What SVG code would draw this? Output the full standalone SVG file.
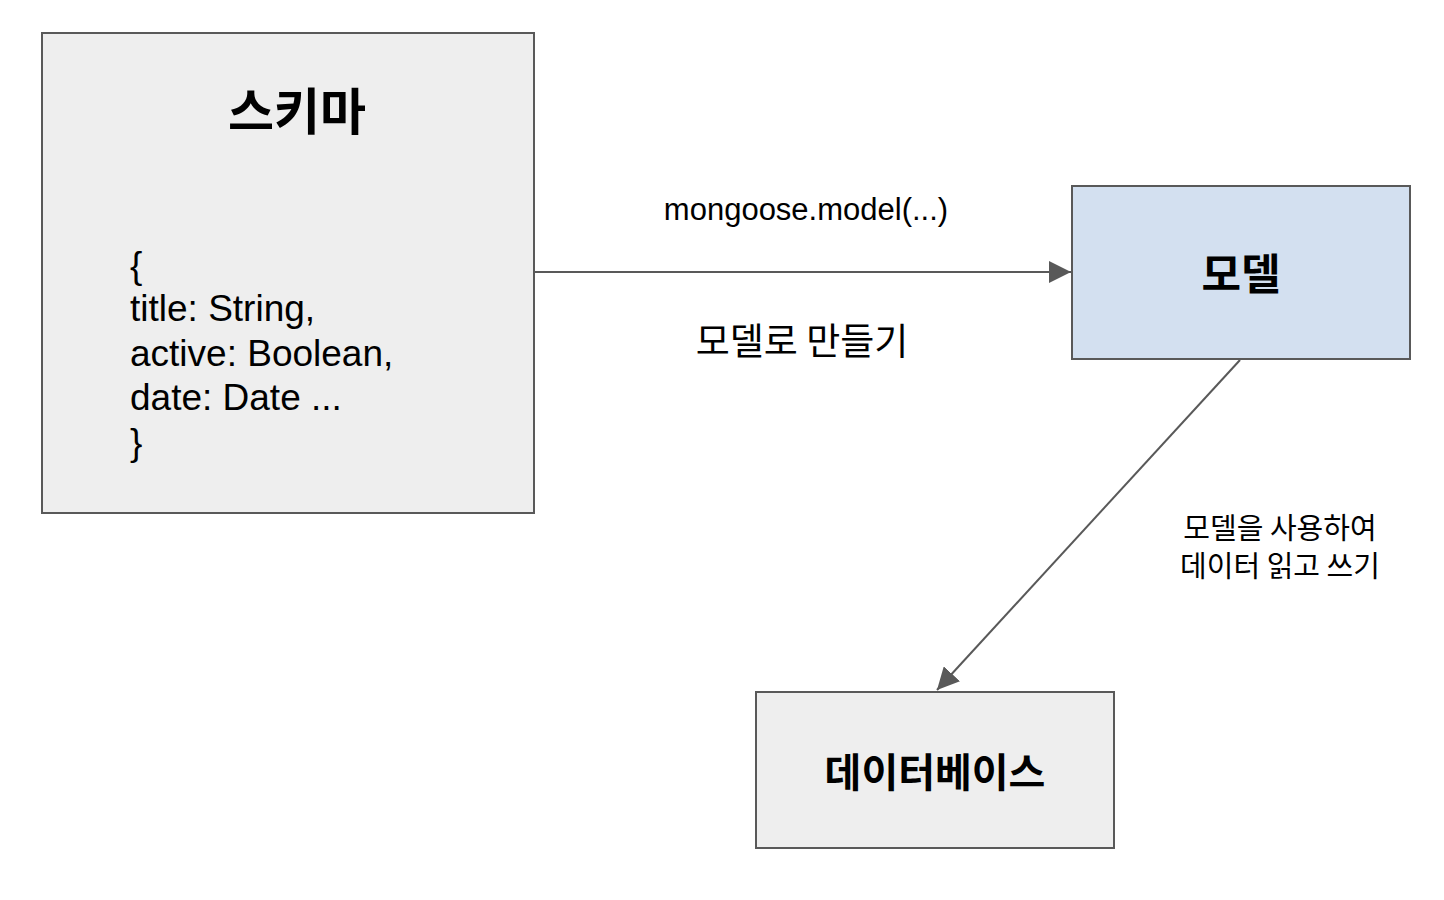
<svg xmlns="http://www.w3.org/2000/svg" width="1444" height="900" viewBox="0 0 1444 900">
<style>
.box{stroke:#595959;stroke-width:2}
.title{font-family:"Noto Sans CJK KR","Liberation Sans",sans-serif;font-weight:bold;fill:#000;text-anchor:middle}
.code{font-family:"Liberation Sans",Arial,sans-serif;font-size:37px;fill:#000}
.lbl{font-family:"Liberation Sans","Noto Sans CJK KR",sans-serif;fill:#000;text-anchor:middle}
.kr{font-family:"Noto Sans CJK KR",sans-serif}
.conn{stroke:#595959;stroke-width:2;fill:none}
</style>
<defs>
<marker id="ah" markerUnits="userSpaceOnUse" markerWidth="24" markerHeight="22" refX="22" refY="11" orient="auto">
<path d="M0,0 L22,11 L0,22 Z" fill="#595959"/>
</marker>
</defs>
<rect width="1444" height="900" fill="#fff"/>
<g id="schema">
<rect class="box" x="42" y="33" width="492" height="480" fill="#eeeeee"/>
<text class="title" x="297" y="130" font-size="50">스키마</text>
<text class="code" x="130" y="278">{</text>
<text class="code" x="130" y="321">title: String,</text>
<text class="code" x="130" y="366">active: Boolean,</text>
<text class="code" x="130" y="410">date: Date ...</text>
<text class="code" x="130" y="455">}</text>
</g>
<g id="model">
<rect class="box" x="1072" y="186" width="338" height="173" fill="#d3e0f0"/>
<text class="title" x="1241" y="290" font-size="43">모델</text>
</g>
<g id="database">
<rect class="box" x="756" y="692" width="358" height="156" fill="#eeeeee"/>
<text class="title" x="935" y="787" font-size="40">데이터베이스</text>
</g>
<g id="connectors">
<line class="conn" x1="535" y1="272" x2="1071" y2="272" marker-end="url(#ah)"/>
<line class="conn" x1="1240" y1="360" x2="937" y2="690" marker-end="url(#ah)"/>
</g>
<g id="labels">
<text class="lbl" x="806" y="220" font-size="31">mongoose.model(...)</text>
<text class="lbl kr" x="802" y="355" font-size="37">모델로 만들기</text>
<text class="lbl kr" x="1280" y="539" font-size="29">모델을 사용하여</text>
<text class="lbl kr" x="1280" y="577" font-size="29">데이터 읽고 쓰기</text>
</g>
</svg>
